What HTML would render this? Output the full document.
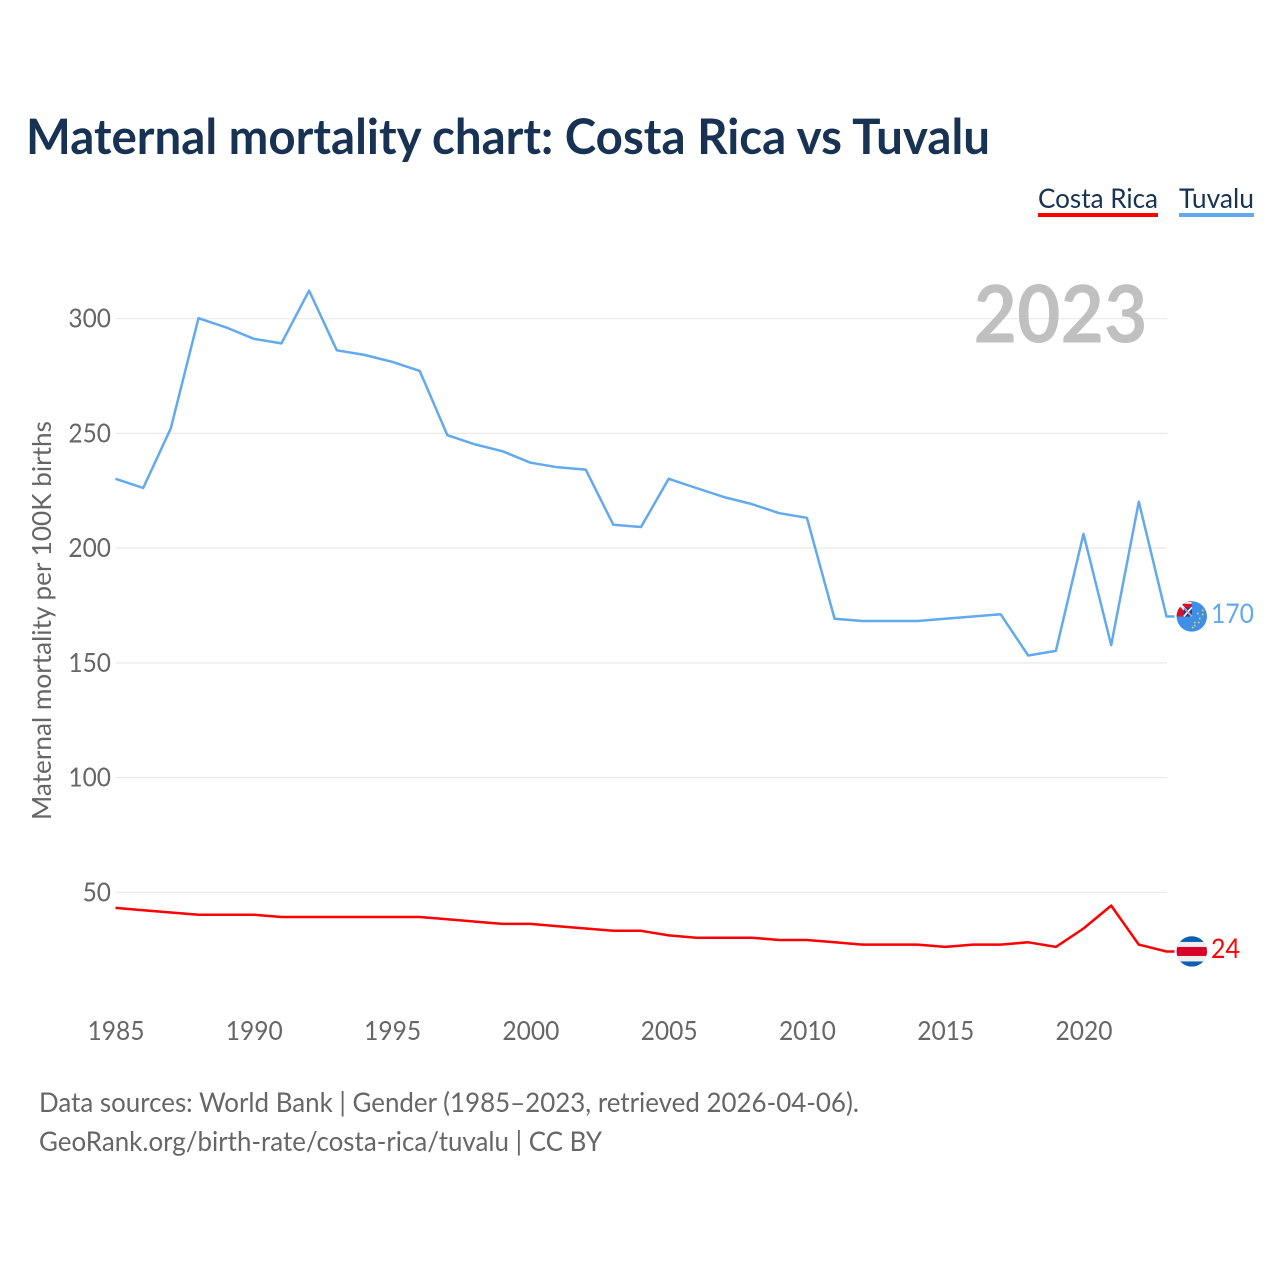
<!DOCTYPE html>
<html lang="en">
<head>
<meta charset="utf-8">
<title>Maternal mortality chart: Costa Rica vs Tuvalu</title>
<style>
html,body{margin:0;padding:0;background:#fff;}
svg{display:block;}
text{font-family:"Lato","Carlito","Liberation Sans",sans-serif;}
</style>
</head>
<body>
<svg id="chart" xmlns="http://www.w3.org/2000/svg" width="1280" height="1280" viewBox="0 0 1280 1280">
  <defs>
    <clipPath id="tv-clip"><circle cx="0" cy="0" r="15.2"></circle></clipPath>
    <clipPath id="cr-clip"><circle cx="0" cy="0" r="15.2"></circle></clipPath>
  </defs>
  <rect x="0" y="0" width="1280" height="1280" fill="#ffffff"></rect>
  <text x="26" y="154" font-size="49" font-weight="700" fill="#173252" textLength="964" lengthAdjust="spacingAndGlyphs">Maternal mortality chart: Costa Rica vs Tuvalu</text>

  <g>
    <text x="1038" y="208" font-size="27" fill="#173252" textLength="120" lengthAdjust="spacingAndGlyphs">Costa Rica</text>
    <rect x="1038" y="213" width="120" height="4" fill="#ff0000"></rect>
  </g>
  <g>
    <text x="1179" y="208" font-size="27" fill="#173252" textLength="75" lengthAdjust="spacingAndGlyphs">Tuvalu</text>
    <rect x="1179" y="213" width="75" height="4" fill="#63a9ee"></rect>
  </g>

  <g id="grid"></g>
  <g id="y-ticks"></g>
  <g id="x-ticks"></g>

  <text x="973.5" y="342.5" font-size="80" font-weight="700" fill="#b5b5b5" fill-opacity="0.85" textLength="174" lengthAdjust="spacingAndGlyphs">2023</text>

  <text transform="translate(51,820) rotate(-90)" x="0" y="0" font-size="26" fill="#666666" textLength="399" lengthAdjust="spacingAndGlyphs">Maternal mortality per 100K births</text>

  <polyline id="line-tuvalu" fill="none" stroke="#63a9ee" stroke-width="2.5" stroke-linejoin="round"></polyline>
  <polyline id="line-costa-rica" fill="none" stroke="#ff0000" stroke-width="2.5" stroke-linejoin="round"></polyline>

  <g id="flag-costa-rica">
    <g clip-path="url(#cr-clip)">
      <rect x="-16" y="-16" width="32" height="32" fill="#0b5fb5"></rect>
      <rect x="-16" y="-9.5" width="32" height="19.5" fill="#eeeeee"></rect>
      <rect x="-16" y="-4.5" width="32" height="9" fill="#d8002b"></rect>
    </g>
  </g>

  <g id="flag-tuvalu">
    <g clip-path="url(#tv-clip)">
      <rect x="-16" y="-16" width="32" height="32" fill="#3d8fe8"></rect>
      <rect x="-16" y="-16" width="16" height="16" fill="#d5102b"></rect>
      <rect x="-12" y="-14.5" width="12" height="1.8" fill="#f2f2f2"></rect>
      <path d="M-12 -12 L-6 -6" stroke="#ffffff" stroke-width="3"></path>
      <rect x="-8" y="-9" width="8" height="9" fill="#1e3f8a"></rect>
      <path d="M-8 -9 L0 0 M0 -9 L-8 0" stroke="#ffffff" stroke-width="1.6"></path>
      <path d="M-8 -9 L0 0" stroke="#d5102b" stroke-width="0.6"></path>
      <g fill="#d9c86a">
        <circle cx="11" cy="-6" r="1"></circle>
        <circle cx="6" cy="-3" r="1"></circle>
        <circle cx="11" cy="-2" r="1"></circle>
        <circle cx="8" cy="2" r="1"></circle>
        <circle cx="3" cy="6" r="1"></circle>
        <circle cx="7" cy="6" r="1"></circle>
        <circle cx="3" cy="9" r="1"></circle>
        <circle cx="1" cy="11" r="1"></circle>
      </g>
    </g>
  </g>

  <text id="value-tuvalu" x="1211" font-size="27" fill="#63a9ee" textLength="43" lengthAdjust="spacingAndGlyphs"></text>
  <text id="value-costa-rica" x="1211" font-size="27" fill="#ff0000" textLength="29" lengthAdjust="spacingAndGlyphs"></text>

  <text x="39" y="1112" font-size="27" fill="#666666" textLength="820" lengthAdjust="spacingAndGlyphs">Data sources: World Bank | Gender (1985–2023, retrieved 2026-04-06).</text>
  <text x="39" y="1151" font-size="27" fill="#666666" textLength="563" lengthAdjust="spacingAndGlyphs">GeoRank.org/birth-rate/costa-rica/tuvalu | CC BY</text>
</svg>
<script>
const years = [1985,1986,1987,1988,1989,1990,1991,1992,1993,1994,1995,1996,1997,1998,1999,2000,2001,2002,2003,2004,2005,2006,2007,2008,2009,2010,2011,2012,2013,2014,2015,2016,2017,2018,2019,2020,2021,2022,2023];
const tuvaluValues = [230,226,252,300,296,291,289,312,286,284,281,277,249,245,242,237,235,234,210,209,230,226,222,219,215,213,169,168,168,168,169,170,171,153,155,206,157.5,220,170];
const costaRicaValues = [43,42,41,40,40,40,39,39,39,39,39,39,38,37,36,36,35,34,33,33,31,30,30,30,29,29,28,27,27,27,26,27,27,28,26,34,44,27,24];
const yTickValues = [50,100,150,200,250,300];
const xTickValues = [1985,1990,1995,2000,2005,2010,2015,2020];

const SVG_NS = 'http://www.w3.org/2000/svg';
function xScale(year) { return 116 + (year - 1985) * (1167 - 116) / 38; }
function yScale(value) { return 892.3 - (value - 50) * 2.2945; }

const gridGroup = document.getElementById('grid');
const yTickGroup = document.getElementById('y-ticks');
const xTickGroup = document.getElementById('x-ticks');

yTickValues.forEach(function (v) {
  const line = document.createElementNS(SVG_NS, 'line');
  
  
  line.setAttribute('x1', xScale(1985));
  line.setAttribute('x2', xScale(2023));
  line.setAttribute('y1', yScale(v));
  line.setAttribute('y2', yScale(v));
  line.setAttribute('stroke', '#e9e9e9');
  line.setAttribute('stroke-width', '1.2');
  gridGroup.appendChild(line);

  const label = document.createElementNS(SVG_NS, 'text');
  
  
  const s = String(v);
  label.setAttribute('x', 111 - s.length * 14.2);
  label.setAttribute('y', yScale(v) + 9);
  label.setAttribute('font-size', '26');
  label.setAttribute('fill', '#666666');
  label.setAttribute('textLength', s.length * 14.2);
  label.setAttribute('lengthAdjust', 'spacingAndGlyphs');
  label.textContent = s;
  yTickGroup.appendChild(label);
});

xTickValues.forEach(function (year) {
  const label = document.createElementNS(SVG_NS, 'text');
  
  
  label.setAttribute('x', xScale(year) - 28.5);
  label.setAttribute('y', 1040);
  label.setAttribute('font-size', '26');
  label.setAttribute('fill', '#666666');
  label.setAttribute('textLength', '57');
  label.setAttribute('lengthAdjust', 'spacingAndGlyphs');
  label.textContent = String(year);
  xTickGroup.appendChild(label);
});

function drawSeries(lineId, flagId, valueId, values) {
  const pts = values.map(function (v, i) { return (xScale(years[i]) - 0.5).toFixed(1) + ',' + (yScale(v) - 0.5).toFixed(1); });
  const last = values[values.length - 1];
  pts.push((xScale(years[years.length - 1]) + 7.5).toFixed(1) + ',' + (yScale(last) - 0.5).toFixed(1));
  document.getElementById(lineId).setAttribute('points', pts.join(' '));
  document.getElementById(flagId).setAttribute('transform', 'translate(' + (xScale(years[years.length - 1]) + 24.8) + ',' + (yScale(last) - 0.5) + ')');
  const valueLabel = document.getElementById(valueId);
  valueLabel.setAttribute('y', yScale(last) + 6);
  valueLabel.textContent = String(Math.round(last));
}

drawSeries('line-tuvalu', 'flag-tuvalu', 'value-tuvalu', tuvaluValues);
drawSeries('line-costa-rica', 'flag-costa-rica', 'value-costa-rica', costaRicaValues);
</script>
</body>
</html>
